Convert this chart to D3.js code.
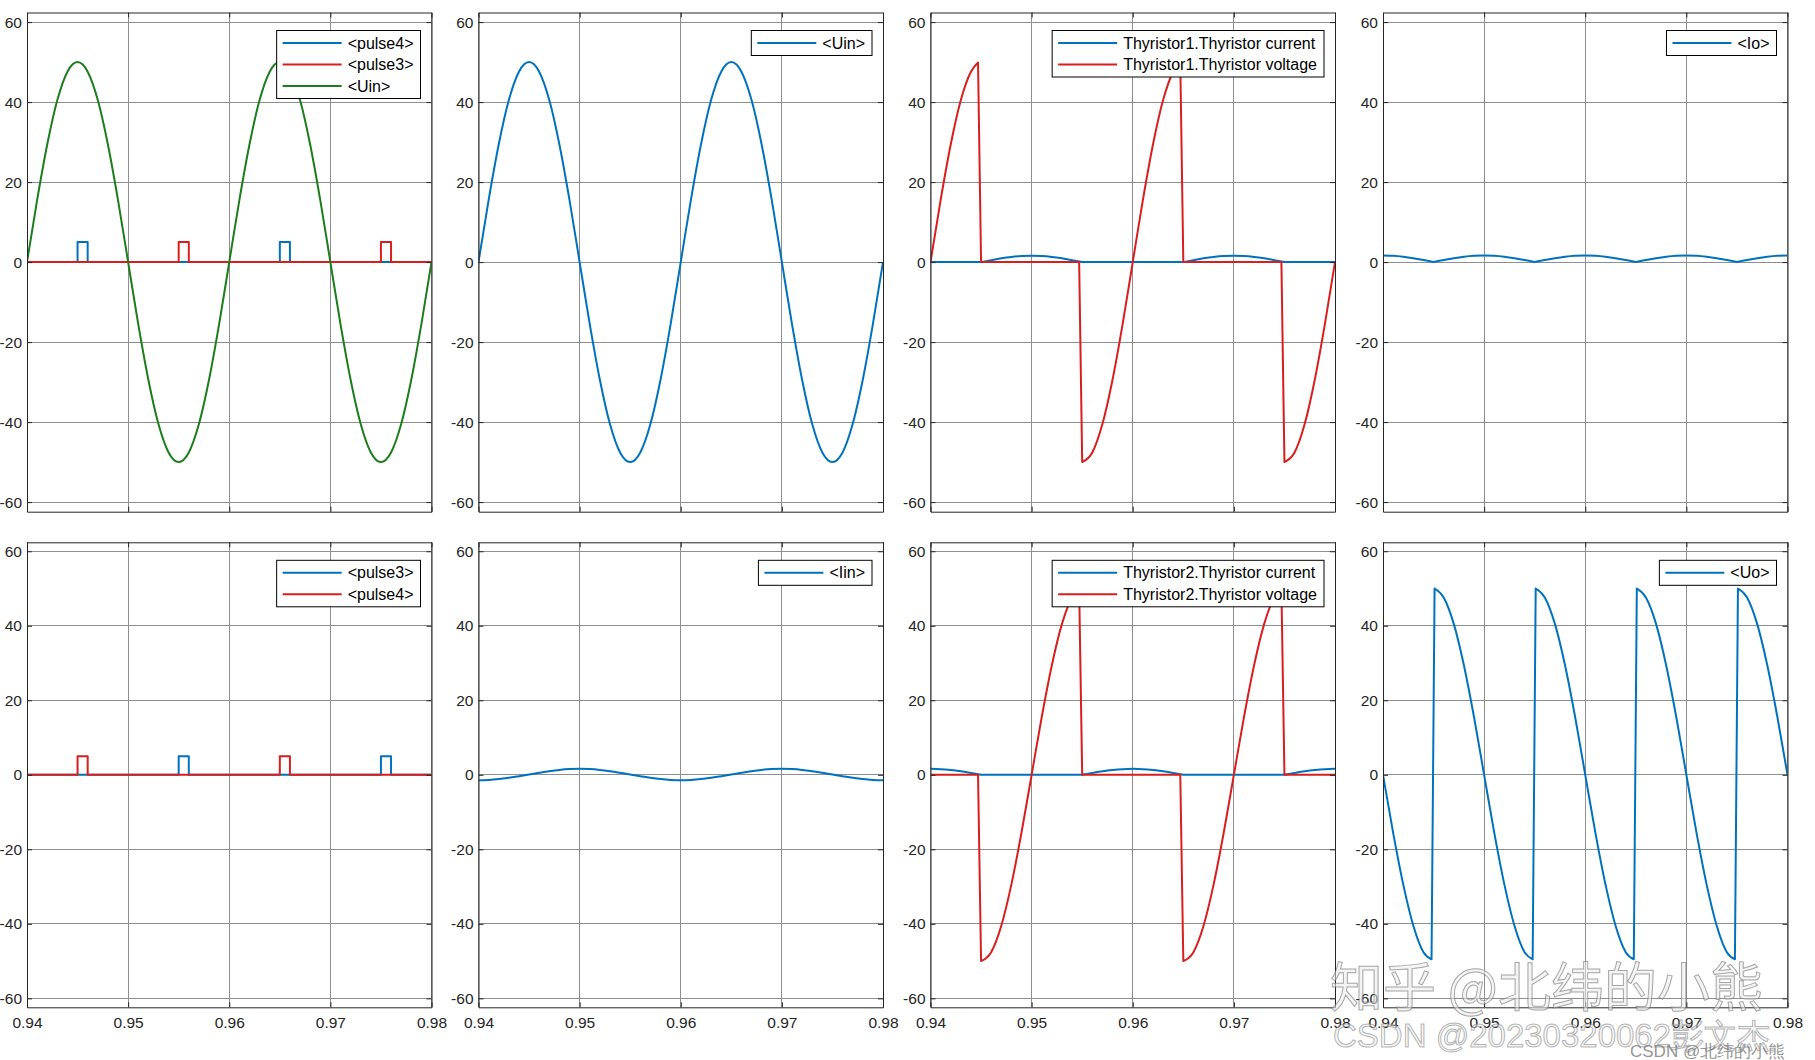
<!DOCTYPE html>
<html><head><meta charset="utf-8">
<script src="https://cdn.jsdelivr.net/npm/d3@7"></script>
<style>
body{margin:0;background:#fff}
svg{display:block;font-family:"Liberation Sans",Arial,Helvetica,sans-serif}
</style></head>
<body>
<svg id="c" width="1815" height="1060"></svg>
<script>
// ---------------- data ----------------
const xDomain = [0.94, 0.98];
const xTickValues = [0.94, 0.95, 0.96, 0.97, 0.98];
const yTickValues = [-60, -40, -20, 0, 20, 40, 60];
const yDomain = [-62.4, 62.4];

// sample times, every 1 ms
const timeGrid = d3.range(41).map(i => +(0.94 + i * 0.001).toFixed(3));

const uinValues = [0, 15.5, 29.4, 40.5, 47.6, 50, 47.6, 40.5, 29.4, 15.5,
  0, -15.5, -29.4, -40.5, -47.6, -50, -47.6, -40.5, -29.4, -15.5,
  0, 15.5, 29.4, 40.5, 47.6, 50, 47.6, 40.5, 29.4, 15.5,
  0, -15.5, -29.4, -40.5, -47.6, -50, -47.6, -40.5, -29.4, -15.5, 0];

const iinValues = [-1.45, -1.37, -1.15, -0.80, -0.37, 0.08, 0.55, 0.98, 1.32, 1.53,
  1.60, 1.53, 1.32, 0.98, 0.55, 0.08, -0.37, -0.80, -1.15, -1.37,
  -1.45, -1.37, -1.15, -0.80, -0.37, 0.08, 0.55, 0.98, 1.32, 1.53,
  1.60, 1.53, 1.32, 0.98, 0.55, 0.08, -0.37, -0.80, -1.15, -1.37, -1.45];

const ioValues = [1.65, 1.57, 1.33, 0.97, 0.51, 0, 0.51, 0.97, 1.33, 1.57,
  1.65, 1.57, 1.33, 0.97, 0.51, 0, 0.51, 0.97, 1.33, 1.57,
  1.65, 1.57, 1.33, 0.97, 0.51, 0, 0.51, 0.97, 1.33, 1.57,
  1.65, 1.57, 1.33, 0.97, 0.51, 0, 0.51, 0.97, 1.33, 1.57, 1.65];

const thy1CurrentValues = [0, 0, 0, 0, 0, 0, 0.49, 0.94, 1.29, 1.52,
  1.6, 1.52, 1.29, 0.94, 0.49, 0, 0, 0, 0, 0,
  0, 0, 0, 0, 0, 0, 0.49, 0.94, 1.29, 1.52,
  1.6, 1.52, 1.29, 0.94, 0.49, 0, 0, 0, 0, 0, 0];

const thy2CurrentValues = [1.6, 1.52, 1.29, 0.94, 0.49, 0, 0, 0, 0, 0,
  0, 0, 0, 0, 0, 0, 0.49, 0.94, 1.29, 1.52,
  1.6, 1.52, 1.29, 0.94, 0.49, 0, 0, 0, 0, 0,
  0, 0, 0, 0, 0, 0, 0.49, 0.94, 1.29, 1.52, 1.6];

// sharp corners (indices into timeGrid) for the current waveforms
const currentCorners = [5, 15, 25, 35];

// pulses: start times, width (s) and height
const pulse4Times = [0.945, 0.965];
const pulse3Times = [0.955, 0.975];
const pulseWidth = 0.001;
const pulseHeight = 5;

// piecewise waveforms with switching jumps: segments of [t, v]
const thy1VoltageSegs = [
  [[0.94, 0], [0.941, 15.5], [0.942, 29.4], [0.943, 40.5], [0.944, 47.6], [0.9447, 49.9]],
  [[0.945, 0], [0.9547, 0]],
  [[0.955, -50], [0.956, -47.6], [0.957, -40.5], [0.958, -29.4], [0.959, -15.5], [0.96, 0],
   [0.961, 15.5], [0.962, 29.4], [0.963, 40.5], [0.964, 47.6], [0.9647, 49.9]],
  [[0.965, 0], [0.9747, 0]],
  [[0.975, -50], [0.976, -47.6], [0.977, -40.5], [0.978, -29.4], [0.979, -15.5], [0.98, 0]]
];

const thy2VoltageSegs = [
  [[0.94, 0], [0.9447, 0]],
  [[0.945, -50], [0.946, -47.6], [0.947, -40.5], [0.948, -29.4], [0.949, -15.5], [0.95, 0],
   [0.951, 15.5], [0.952, 29.4], [0.953, 40.5], [0.954, 47.6], [0.9547, 49.9]],
  [[0.955, 0], [0.9647, 0]],
  [[0.965, -50], [0.966, -47.6], [0.967, -40.5], [0.968, -29.4], [0.969, -15.5], [0.97, 0],
   [0.971, 15.5], [0.972, 29.4], [0.973, 40.5], [0.974, 47.6], [0.9747, 49.9]],
  [[0.975, 0], [0.98, 0]]
];

const uoSegs = [
  [[0.94, 0], [0.941, -15.5], [0.942, -29.4], [0.943, -40.5], [0.944, -47.6], [0.9448, -49.5]],
  [[0.9451, 50], [0.946, 47.6], [0.947, 40.5], [0.948, 29.4], [0.949, 15.5], [0.95, 0],
   [0.951, -15.5], [0.952, -29.4], [0.953, -40.5], [0.954, -47.6], [0.9548, -49.5]],
  [[0.9551, 50], [0.956, 47.6], [0.957, 40.5], [0.958, 29.4], [0.959, 15.5], [0.96, 0],
   [0.961, -15.5], [0.962, -29.4], [0.963, -40.5], [0.964, -47.6], [0.9648, -49.5]],
  [[0.9651, 50], [0.966, 47.6], [0.967, 40.5], [0.968, 29.4], [0.969, 15.5], [0.97, 0],
   [0.971, -15.5], [0.972, -29.4], [0.973, -40.5], [0.974, -47.6], [0.9748, -49.5]],
  [[0.9751, 50], [0.976, 47.6], [0.977, 40.5], [0.978, 29.4], [0.979, 15.5], [0.98, 0]]
];

// ---------------- helpers to build segment lists ----------------
function gridSegs(values, corners) {
  const pts = timeGrid.map((t, i) => [t, values[i]]);
  const cuts = [0, ...(corners || []), pts.length - 1];
  const segs = [];
  for (let i = 0; i < cuts.length - 1; i++) segs.push(pts.slice(cuts[i], cuts[i + 1] + 1));
  return segs;
}
function pulseSegs(times) {
  const pts = [[xDomain[0], 0]];
  times.forEach(t => { pts.push([t, 0], [t, pulseHeight], [t + pulseWidth, pulseHeight], [t + pulseWidth, 0]); });
  pts.push([xDomain[1], 0]);
  return pts.slice(0, -1).map((p, i) => [p, pts[i + 1]]);
}

const BLUE = "#0072BD", RED = "#D91E1E", GREEN = "#1B7D1B";

const panels = [
  { row: 0, col: 0, series: [
    { name: "<pulse4>", color: BLUE, segs: pulseSegs(pulse4Times) },
    { name: "<pulse3>", color: RED, segs: pulseSegs(pulse3Times) },
    { name: "<Uin>", color: GREEN, segs: gridSegs(uinValues) } ] },
  { row: 0, col: 1, series: [
    { name: "<Uin>", color: BLUE, segs: gridSegs(uinValues) } ] },
  { row: 0, col: 2, series: [
    { name: "Thyristor1.Thyristor current", color: BLUE, segs: gridSegs(thy1CurrentValues, currentCorners) },
    { name: "Thyristor1.Thyristor voltage", color: RED, segs: thy1VoltageSegs } ] },
  { row: 0, col: 3, series: [
    { name: "<Io>", color: BLUE, segs: gridSegs(ioValues, currentCorners) } ] },
  { row: 1, col: 0, series: [
    { name: "<pulse3>", color: BLUE, segs: pulseSegs(pulse3Times) },
    { name: "<pulse4>", color: RED, segs: pulseSegs(pulse4Times) } ] },
  { row: 1, col: 1, series: [
    { name: "<Iin>", color: BLUE, segs: gridSegs(iinValues) } ] },
  { row: 1, col: 2, series: [
    { name: "Thyristor2.Thyristor current", color: BLUE, segs: gridSegs(thy2CurrentValues, currentCorners) },
    { name: "Thyristor2.Thyristor voltage", color: RED, segs: thy2VoltageSegs } ] },
  { row: 1, col: 3, series: [
    { name: "<Uo>", color: BLUE, segs: uoSegs } ] }
];

// ---------------- layout ----------------
const colLefts = [27, 478.5, 930.5, 1383];
const plotW = 404.5;
const rowBoxes = [[12.5, 511.7], [542.3, 1007.3]];
const TXT = "#262626", GRID = "#8f8f8f";

const svg = d3.select("#c");

panels.forEach((p, pi) => {
  const L = colLefts[p.col], R = L + plotW;
  const T = rowBoxes[p.row][0], B = rowBoxes[p.row][1];
  const x = d3.scaleLinear().domain(xDomain).range([L, R]);
  const y = d3.scaleLinear().domain(yDomain).range([B, T]);
  const g = svg.append("g");

  // grid
  g.append("g").selectAll("line").data(xTickValues).join("line")
    .attr("x1", d => x(d)).attr("x2", d => x(d)).attr("y1", T).attr("y2", B)
    .attr("stroke", GRID).attr("stroke-width", 1).attr("shape-rendering", "crispEdges");
  g.append("g").selectAll("line").data(yTickValues).join("line")
    .attr("y1", d => y(d)).attr("y2", d => y(d)).attr("x1", L).attr("x2", R)
    .attr("stroke", GRID).attr("stroke-width", 1).attr("shape-rendering", "crispEdges");

  // data
  const clipId = "clip" + pi;
  svg.append("clipPath").attr("id", clipId).append("rect")
    .attr("x", L).attr("y", T).attr("width", R - L).attr("height", B - T);
  const lineGen = d3.line().x(d => x(d[0])).y(d => y(d[1])).curve(d3.curveMonotoneX);
  const dg = g.append("g").attr("clip-path", `url(#${clipId})`);
  p.series.forEach(s => {
    const d = s.segs.map((seg, i) => {
      const str = lineGen(seg);
      return i === 0 ? str : "L" + str.slice(1);
    }).join("");
    dg.append("path").attr("d", d).attr("fill", "none")
      .attr("stroke", s.color).attr("stroke-width", 2)
      .attr("stroke-linejoin", "round").attr("stroke-linecap", "butt");
  });

  // axes (box with inward ticks)
  const styleAxis = sel => {
    sel.attr("font-size", null).attr("font-family", null);
    sel.selectAll(".domain").attr("stroke", TXT).attr("stroke-width", 1).attr("fill", "none");
    sel.selectAll(".tick line").attr("stroke", TXT).attr("stroke-width", 1);
    sel.selectAll("text").attr("fill", TXT).style("font-size", "15.5px")
      .style("font-family", '"Liberation Sans",Arial,sans-serif');
  };
  g.append("g").attr("transform", `translate(${L},0)`)
    .call(d3.axisLeft(y).tickValues(yTickValues).tickSize(-5).tickSizeOuter(0).tickPadding(5).tickFormat(d => String(d)))
    .call(styleAxis);
  g.append("g").attr("transform", `translate(${R},0)`)
    .call(d3.axisRight(y).tickValues(yTickValues).tickSize(-5).tickSizeOuter(0).tickFormat(""))
    .call(styleAxis);
  g.append("g").attr("transform", `translate(0,${T})`)
    .call(d3.axisTop(x).tickValues(xTickValues).tickSize(-5).tickSizeOuter(0).tickFormat(""))
    .call(styleAxis);
  const bottom = d3.axisBottom(x).tickValues(xTickValues).tickSize(-5).tickSizeOuter(0).tickPadding(10)
    .tickFormat(p.row === 1 ? d3.format(".2f") : "");
  g.append("g").attr("transform", `translate(0,${B})`).call(bottom).call(styleAxis);

  // legend
  const lg = g.append("g");
  const box = lg.append("rect").attr("fill", "#fff").attr("stroke", "#000").attr("stroke-width", 1);
  let maxW = 0;
  p.series.forEach((s, i) => {
    const cy = 12.5 + 21.5 * i;
    lg.append("line").attr("x1", 6).attr("x2", 65).attr("y1", cy).attr("y2", cy)
      .attr("stroke", s.color).attr("stroke-width", 2);
    const t = lg.append("text").attr("x", 71).attr("y", cy).attr("dy", "0.35em")
      .attr("fill", "#000").style("font-size", "16px").text(s.name);
    maxW = Math.max(maxW, t.node().getComputedTextLength());
  });
  const bw = 71 + maxW + 7, bh = 25 + 21.5 * (p.series.length - 1);
  box.attr("x", 0).attr("y", 0).attr("width", bw).attr("height", bh);
  lg.attr("transform", `translate(${R - 11 - bw},${T + 18})`);
});

// ---------------- watermarks ----------------
const wm = svg.append("g").style("pointer-events", "none");
wm.append("text").attr("x", 1330).attr("y", 1007)
  .style("font-family", '"Noto Sans CJK SC",sans-serif').style("font-size", "53px")
  .attr("fill", "rgba(235,235,235,0.55)").attr("stroke", "rgba(110,110,110,0.6)").attr("stroke-width", 1)
  .text("知乎 @北纬的小熊");
wm.append("text").attr("x", 1333).attr("y", 1047)
  .style("font-size", "33px")
  .attr("fill", "rgba(235,235,235,0.5)").attr("stroke", "rgba(120,120,120,0.55)").attr("stroke-width", 1)
  .text("CSDN @20230320062彭文杰");
wm.append("text").attr("x", 1630).attr("y", 1057)
  .style("font-size", "17px").attr("fill", "rgba(120,120,120,0.8)")
  .text("CSDN @北纬的小熊");
</script>
</body></html>
